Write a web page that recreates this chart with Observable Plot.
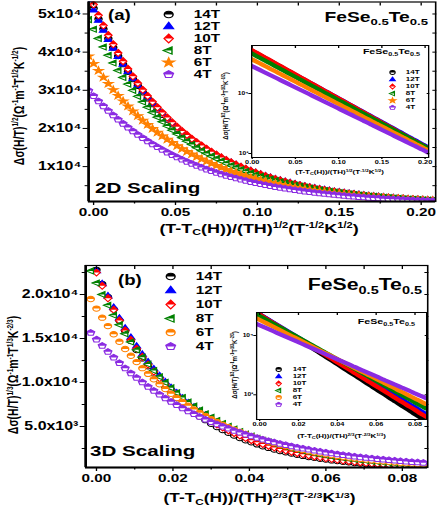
<!DOCTYPE html>
<html><head><meta charset="utf-8">
<script src="https://cdn.jsdelivr.net/npm/d3@7"></script>
<script src="https://cdn.jsdelivr.net/npm/@observablehq/plot@0.6"></script>
<style>
html,body{margin:0;padding:0;background:#fff;overflow:hidden;width:441px;height:508px;}
#root{position:relative;width:332px;height:508px;transform:scaleX(1.32831);transform-origin:0 0;font-family:"Liberation Sans",Arial,sans-serif;font-weight:bold;color:#000;}
.abs{position:absolute;}
.abs svg{display:block;}
.sub{font-size:0.68em;position:relative;top:0.3em;}
.sup{font-size:0.62em;position:relative;top:-0.55em;}
</style></head><body><div id="root"></div>
<script>
// ---------------- data ----------------
const fields = ["14T","12T","10T","8T","6T","4T"];
const colors = ["#000000","#0000ff","#ff0000","#008000","#ff8000","#8a2be2"];

// panel (a): 2D scaling, x = (T-Tc(H))/(TH)^1/2
const xA = [-0.003,0,0.003,0.006,0.009,0.012,0.015,0.018,0.021,0.024,0.027,0.030,0.033,0.036,0.039,0.042,0.045,0.048,0.051,0.054,0.057,0.060,0.063,0.066,0.069,0.072,0.075,0.078,0.081,0.084,0.087,0.090,0.093,0.096,0.099,0.102,0.105,0.108,0.111,0.114,0.117,0.120,0.123,0.126,0.129,0.132,0.135,0.138,0.141,0.144,0.147,0.150,0.153,0.156,0.159,0.162,0.165,0.168,0.171,0.174,0.177,0.180,0.183,0.186,0.189,0.192,0.195,0.198,0.201,0.204,0.207];
const a14 = [54450,51500,48700,46060,43560,41200,38960,36850,34850,32960,31170,29480,27880,26370,24940,23590,22310,21100,19950,18870,17850,16880,15960,15100,14280,13500,12770,12080,11420,10800,10220,9660,9140,8640,8170,7730,7310,6910,6540,6180,5850,5530,5230,4950,4680,4430,4190,3960,3740,3540,3350,3170,3000,2830,2680,2530,2400,2270,2140,2030,1920,1810,1720,1620,1530,1450,1370,1300,1230,1160,1100];
const a12 = [53860,51000,48300,45730,43310,41010,38840,36780,34830,32980,31230,29580,28010,26520,25120,23790,22530,21330,20200,19130,18120,17160,16250,15380,14570,13800,13060,12370,11720,11100,10510,9950,9420,8920,8450,8000,7580,7180,6800,6430,6090,5770,5460,5170,4900,4640,4390,4160,3940,3730,3530,3350,3170,3000,2840,2690,2550,2410,2290,2160,2050,1940,1840,1740,1650,1560,1480,1400,1330,1260,1190];
const a10 = [55500,52500,49670,46990,44450,42050,39790,37640,35610,33690,31870,30150,28520,26980,25530,24150,22850,21610,20450,19340,18300,17310,16380,15500,14660,13870,13120,12410,11740,11110,10510,9940,9410,8900,8420,7960,7530,7130,6740,6380,6040,5710,5400,5110,4830,4570,4330,4090,3870,3660,3470,3280,3100,2940,2780,2630,2490,2350,2220,2100,1990,1880,1780,1690,1590,1510,1430,1350,1280,1210,1140];
const a8 = [48530,46000,43600,41330,39180,37140,35210,33370,31630,29990,28420,26940,25540,24210,22950,21750,20620,19550,18530,17560,16650,15780,14960,14180,13440,12740,12080,11450,10850,10290,9750,9240,8760,8310,7870,7460,7080,6710,6360,6030,5710,5410,5130,4870,4610,4370,4140,3930,3720,3530,3350,3170,3010,2850,2700,2560,2430,2300,2180,2070,1960,1860,1760,1670,1580,1500,1420,1350,1280,1210,1150];
const a6 = [38950,37000,35150,33380,31710,30120,28610,27180,25810,24520,23290,22120,21010,19960,18960,18010,17110,16250,15440,14660,13930,13230,12570,11940,11340,10770,10230,9720,9230,8770,8330,7910,7510,7140,6780,6440,6120,5810,5520,5240,4980,4730,4490,4270,4050,3850,3660,3470,3300,3130,2980,2830,2690,2550,2420,2300,2190,2080,1970,1870,1780,1690,1610,1530,1450,1380,1310,1240,1180,1120,1060];
const a4 = [29930,28500,27140,25850,24620,23440,22330,21260,20250,19290,18370,17490,16660,15860,15110,14390,13700,13050,12430,11840,11270,10740,10220,9740,9270,8830,8410,8010,7630,7260,6920,6590,6270,5980,5690,5420,5160,4920,4680,4460,4250,4040,3850,3670,3490,3330,3170,3020,2870,2740,2610,2480,2360,2250,2140,2040,1940,1850,1760,1680,1600,1520,1450,1380,1320,1250,1190,1140,1080,1030,980];

// panel (b): 3D scaling, x = (T-Tc(H))/(TH)^2/3
const xB = [-0.0015,0,0.0015,0.003,0.0045,0.006,0.0075,0.009,0.0105,0.012,0.0135,0.015,0.0165,0.018,0.0195,0.021,0.0225,0.024,0.0255,0.027,0.0285,0.03,0.0315,0.033,0.0345,0.036,0.0375,0.039,0.0405,0.042,0.0435,0.045,0.0465,0.048,0.0495,0.051,0.0525,0.054,0.0555,0.057,0.0585,0.06,0.0615,0.063,0.0645,0.066,0.0675,0.069,0.0705,0.072,0.0735,0.075,0.0765,0.078,0.0795,0.081,0.0825,0.084,0.0855];
const b14 = [24520,22800,21200,19710,18330,17040,15850,14730,13700,12740,11840,11010,10240,9520,8850,8230,7650,7120,6620,6150,5720,5320,4950,4600,4280,3980,3700,3440,3200,2970,2760,2570,2390,2220,2070,1920,1790,1660,1540,1440,1330,1240,1150,1070,1000,930,860,800,750,690,640,600,560,520,480,450,420,390,360];
const b12 = [24290,22700,21220,19830,18530,17320,16190,15130,14140,13210,12350,11540,10790,10080,9420,8810,8230,7690,7190,6720,6280,5870,5480,5130,4790,4480,4180,3910,3650,3420,3190,2980,2790,2610,2440,2280,2130,1990,1860,1740,1620,1520,1420,1330,1240,1160,1080,1010,950,880,830,770,720,670,630,590,550,510,480];
const b10 = [24120,22500,20990,19580,18270,17040,15900,14830,13840,12910,12050,11240,10480,9780,9120,8510,7940,7410,6910,6450,6020,5610,5240,4890,4560,4250,3970,3700,3450,3220,3000,2800,2620,2440,2280,2120,1980,1850,1720,1610,1500,1400,1310,1220,1140,1060,990,920,860,800,750,700,650,610,570,530,490,460,430];
const b8 = [22680,21300,20000,18780,17640,16560,15550,14600,13710,12880,12090,11350,10660,10010,9400,8830,8290,7780,7310,6860,6440,6050,5680,5340,5010,4700,4420,4150,3900,3660,3440,3230,3030,2840,2670,2510,2360,2210,2080,1950,1830,1720,1610,1520,1420,1340,1260,1180,1110,1040,980,920,860,810,760,710,670,630,590];
const b6 = [19490,18400,17370,16410,15490,14630,13810,13040,12320,11630,10980,10370,9790,9250,8730,8240,7790,7350,6940,6550,6190,5840,5520,5210,4920,4650,4390,4140,3910,3690,3490,3290,3110,2940,2770,2620,2470,2340,2200,2080,1970,1860,1750,1660,1560,1480,1390,1320,1240,1170,1110,1050,990,930,880,830,790,740,700];
const b4 = [15660,14900,14180,13490,12840,12220,11630,11060,10530,10020,9530,9070,8630,8210,7820,7440,7080,6730,6410,6100,5800,5520,5260,5000,4760,4530,4310,4100,3900,3710,3530,3360,3200,3040,2900,2760,2620,2500,2380,2260,2150,2050,1950,1850,1760,1680,1600,1520,1450,1380,1310,1250,1190,1130,1070,1020,970,930,880];

// ticks
const xTicksA = [0,0.05,0.1,0.15,0.2];
const xLabelsA = ["0.00","0.05","0.10","0.15","0.20"];
const xMinorA = [0.025,0.075,0.125,0.175];
const yTicksA = [10000,20000,30000,40000,50000];
const yLabelsA = ["1x10⁴","2x10⁴","3x10⁴","4x10⁴","5x10⁴"];
const yMinorA = [5000,15000,25000,35000,45000];
const xTicksB = [0,0.02,0.04,0.06,0.08];
const xLabelsB = ["0.00","0.02","0.04","0.06","0.08"];
const xMinorB = [0.01,0.03,0.05,0.07];
const yTicksB = [5000,10000,15000,20000];
const yLabelsB = ["5.0x10³","1.0x10⁴","1.5x10⁴","2.0x10⁴"];
const yMinorB = [2500,7500,12500,17500,22500];
const logTicks = [1000,10000];
const logLabels = ["10³","10⁴"];

// ---------------- symbols ----------------
const P = Math.PI;
const rr = s => Math.sqrt(s / P);
function polyPath(c, pts){ c.moveTo(pts[0][0], pts[0][1]); for (let i = 1; i < pts.length; i++) c.lineTo(pts[i][0], pts[i][1]); c.closePath(); }
const mk = fn => ({draw(c, s){ polyPath(c, fn(rr(s))); }});
const SYM = {
  circle: {draw(c, s){ const r = rr(s); c.moveTo(r, 0); c.arc(0, 0, r, 0, 2 * P); }},
  circleHalf: {draw(c, s){ const r = rr(s); c.moveTo(-r, 0); c.arc(0, 0, r, P, 2 * P); c.closePath(); }},
  tri: mk(r => [[0, -1.25 * r], [1.1 * r, 0.7 * r], [-1.1 * r, 0.7 * r]]),
  dia: mk(r => [[0, -1.3 * r], [1.05 * r, 0], [0, 1.3 * r], [-1.05 * r, 0]]),
  diaHalf: mk(r => [[-1.05 * r, 0], [0, -1.3 * r], [1.05 * r, 0]]),
  triL: mk(r => [[-1.25 * r, 0], [0.75 * r, -1.1 * r], [0.75 * r, 1.1 * r]]),
  triLHalf: mk(r => [[-1.25 * r, 0], [0.75 * r, -1.1 * r], [0.75 * r, 0]]),
  star: mk(r => d3.range(10).map(i => { const a = -P / 2 + i * P / 5, q = i % 2 ? 0.55 * r : 1.4 * r; return [q * Math.cos(a), q * Math.sin(a)]; })),
  pent: mk(r => d3.range(5).map(i => { const a = -P / 2 + i * 2 * P / 5; return [1.15 * r * Math.cos(a), 1.15 * r * Math.sin(a)]; })),
  pentHalf: mk(r => { const k = 1.15 * r; return [[-0.951 * k, -0.309 * k], [0, -k], [0.951 * k, -0.309 * k], [0.8507 * k, 0], [-0.8507 * k, 0]]; })
};
const stylesA = [
  {full: SYM.circle, half: SYM.circleHalf},
  {full: SYM.tri, solid: true},
  {full: SYM.dia, half: SYM.diaHalf},
  {full: SYM.triL, half: SYM.triLHalf},
  {full: SYM.star, solid: true},
  {full: SYM.pent, half: SYM.pentHalf}
];
const stylesB = stylesA.map((s, i) => i === 4 ? {full: SYM.circle, half: SYM.circleHalf} : s);

const FONT = "'Liberation Sans', Arial, sans-serif";
const root = document.getElementById("root");
function place(node, left, top){ const d = document.createElement("div"); d.className = "abs"; d.style.left = left + "px"; d.style.top = top + "px"; d.appendChild(node); root.appendChild(d); return d; }
function addText(h, x, base, fs, anchor){ const d = document.createElement("div"); d.className = "abs"; d.style.left = x + "px"; d.style.top = (base - 0.85 * fs) + "px"; d.style.fontSize = fs + "px"; d.style.lineHeight = fs + "px"; d.style.whiteSpace = "nowrap"; if (anchor === "middle") d.style.transform = "translateX(-50%)"; if (anchor === "end") d.style.transform = "translateX(-100%)"; d.innerHTML = h; root.appendChild(d); }
function addVText(h, cx, cy, fs){ const d = document.createElement("div"); d.className = "abs"; d.style.left = cx + "px"; d.style.top = cy + "px"; d.style.fontSize = fs + "px"; d.style.lineHeight = fs + "px"; d.style.whiteSpace = "nowrap"; d.style.transform = "translate(-50%,-50%) rotate(-90deg)"; d.innerHTML = h; root.appendChild(d); }
const svgStyle = {fontFamily: FONT, fontWeight: "bold", color: "black", background: "transparent", overflow: "visible"};

function mainPlot(c){
  const marks = [];
  c.ys.forEach((ys, j) => {
    const data = c.xs.map((x, i) => ({x, y: ys[i]}));
    const st = c.styles[j], col = colors[j];
    marks.push(Plot.dot(data, {x: "x", y: "y", r: 2.7, symbol: st.full, fill: st.solid ? col : "white", stroke: col, strokeWidth: 1, clip: true}));
    if (st.half) marks.push(Plot.dot(data, {x: "x", y: "y", r: 2.7, symbol: st.half, fill: col, clip: true}));
  });
  marks.push(
    Plot.frame({strokeWidth: 1.2}),
    Plot.ruleX([c.xDom[0]], {strokeWidth: 2}),
    Plot.ruleY([c.yDom[0]], {strokeWidth: 2}),
    Plot.axisX({ticks: c.xTicks, tickFormat: d => c.xLabels[c.xTicks.indexOf(d)], tickSize: 4, tickPadding: 2, fontSize: 11.5, fontWeight: "bold", label: null}),
    Plot.axisX({ticks: c.xMinor, tickFormat: () => "", tickSize: 2.5, label: null}),
    Plot.axisX({anchor: "top", ticks: c.xTicks.concat(c.xMinor), tickFormat: () => "", tickSize: -3, label: null}),
    Plot.axisY({ticks: c.yTicks, tickFormat: d => c.yLabels[c.yTicks.indexOf(d)], tickSize: 4, tickPadding: 1.5, fontSize: 12, fontWeight: "bold", label: null}),
    Plot.axisY({ticks: c.yMinor, tickFormat: () => "", tickSize: 2.5, label: null}),
    Plot.axisY({anchor: "right", ticks: c.yTicks.concat(c.yMinor), tickFormat: () => "", tickSize: -3, label: null})
  );
  return Plot.plot({width: c.w, height: c.h, marginLeft: c.ml, marginRight: c.mr, marginTop: c.mt, marginBottom: c.mb,
    x: {domain: c.xDom}, y: {domain: c.yDom}, marks, style: svgStyle});
}

function insetPlot(c){
  const marks = [Plot.frame({fill: "white", stroke: null})];
  c.ys.forEach((ys, j) => {
    const data = c.xs.map((x, i) => ({x, y: ys[i]}));
    marks.push(Plot.line(data, {x: "x", y: "y", stroke: colors[j], strokeWidth: 4, clip: true}));
  });
  marks.push(
    Plot.frame({strokeWidth: 1}),
    Plot.axisX({ticks: c.xTicks, tickFormat: d => c.xLabels[c.xTicks.indexOf(d)], tickSize: 2, tickPadding: 1, fontSize: 5.5, fontWeight: "bold", label: null}),
    Plot.axisX({anchor: "top", ticks: c.xTicks, tickFormat: () => "", tickSize: -2, label: null}),
    Plot.axisY({ticks: logTicks, tickFormat: d => logLabels[logTicks.indexOf(d)], tickSize: 2, tickPadding: 0.5, fontSize: 5, fontWeight: "bold", label: null}),
    Plot.axisY({anchor: "right", ticks: logTicks, tickFormat: () => "", tickSize: -2, label: null})
  );
  return Plot.plot({width: c.w, height: c.h, marginLeft: c.ml, marginRight: c.mr, marginTop: c.mt, marginBottom: c.mb,
    x: {domain: c.xDom}, y: {type: "log", domain: c.yDom}, marks, style: svgStyle});
}

function legendPlot(c){
  const marks = [];
  fields.forEach((f, j) => {
    const st = c.styles[j], col = colors[j];
    marks.push(Plot.dot([f], {y: d => d, frameAnchor: "left", dx: c.dx, r: c.r, symbol: st.full, fill: st.solid ? col : "white", stroke: col, strokeWidth: c.sw}));
    if (st.half) marks.push(Plot.dot([f], {y: d => d, frameAnchor: "left", dx: c.dx, r: c.r, symbol: st.half, fill: col}));
  });
  marks.push(Plot.text(fields, {y: d => d, text: d => d, frameAnchor: "left", dx: c.tx, textAnchor: "start", fontSize: c.fs, fontWeight: "bold", fill: "black"}));
  return Plot.plot({width: c.w, height: c.h, marginLeft: 0, marginRight: 0, marginTop: c.m, marginBottom: c.m,
    y: {type: "point", domain: fields, axis: null, padding: 0}, marks, style: svgStyle});
}

// ---------- panel (a) ----------
place(mainPlot({xs: xA, ys: [a14, a12, a10, a8, a6, a4], styles: stylesA, w: 332, h: 250, ml: 66.2, mr: 4.5, mt: 1.5, mb: 49,
  xDom: [-0.00305, 0.20885], yDom: [850, 53140], xTicks: xTicksA, xLabels: xLabelsA, xMinor: xMinorA, yTicks: yTicksA, yLabels: yLabelsA, yMinor: yMinorA}), 0, 0);
place(insetPlot({xs: xA, ys: [a14, a12, a10, a8, a6, a4], w: 172, h: 142, ml: 28.96, mr: 9.8, mt: 5, mb: 25,
  xDom: [-0.0006, 0.2041], yDom: [858, 63100], xTicks: xTicksA, xLabels: xLabelsA}), 160, 40);
place(legendPlot({styles: stylesA, w: 50, h: 74, m: 6, dx: 8.5, tx: 27.3, r: 3.3, sw: 1.1, fs: 11.5}), 118, 7);
place(legendPlot({styles: stylesA, w: 36, h: 44, m: 4, dx: 5, tx: 15, r: 2, sw: 0.8, fs: 6}), 290, 67);

// ---------- panel (b) ----------
place(mainPlot({xs: xB, ys: [b14, b12, b10, b8, b6, b4], styles: stylesB, w: 332, h: 258, ml: 64, mr: 10.5, mt: 15, mb: 41,
  xDom: [-0.002825, 0.08663], yDom: [341, 23295], xTicks: xTicksB, xLabels: xLabelsB, xMinor: xMinorB, yTicks: yTicksB, yLabels: yLabelsB, yMinor: yMinorB}), 0, 250);
place(insetPlot({xs: xB, ys: [b14, b12, b10, b8, b6, b4], w: 167, h: 138, ml: 27.7, mr: 11.3, mt: 7, mb: 24,
  xDom: [-0.00155, 0.0860], yDom: [383, 24430], xTicks: xTicksB, xLabels: xLabelsB}), 165, 305);
place(legendPlot({styles: stylesB, w: 50, h: 84.5, m: 6, dx: 8, tx: 26.8, r: 3.3, sw: 1.1, fs: 11.5}), 120, 269);
place(legendPlot({styles: stylesB, w: 36, h: 45, m: 4, dx: 5.3, tx: 15.8, r: 2, sw: 0.8, fs: 6}), 204, 364);

// ---------- texts ----------
const FESE = 'FeSe<span class="sub">0.5</span>Te<span class="sub">0.5</span>';
const XLAB_A = '(T-T<span class="sub">C</span>(H))/(TH)<span class="sup">1/2</span>(T<span class="sup">-1/2</span>K<span class="sup">1/2</span>)';
const XLAB_B = '(T-T<span class="sub">C</span>(H))/(TH)<span class="sup">2/3</span>(T<span class="sup">-2/3</span>K<span class="sup">1/3</span>)';
const YLAB_A = 'Δσ(H/T)<span class="sup">1/2</span>(Ω<span class="sup">-1</span>m<span class="sup">-1</span>T<span class="sup">1/2</span>K<span class="sup">-1/2</span>)';
const YLAB_B = 'Δσ(H/T)<span class="sup">1/3</span>(Ω<span class="sup">-1</span>m<span class="sup">-1</span>T<span class="sup">1/3</span>K<span class="sup">-2/3</span>)';

addText("(a)", 81.3, 20, 14, "start");
addText(FESE, 322.2, 22, 14.5, "end");
addText("2D Scaling", 71.5, 193, 15.5, "start");
addText(XLAB_A, 195, 233, 13.5, "middle");
addVText(YLAB_A, 15, 106, 10.5);
addText(FESE, 316.2, 55, 8, "end");
addText(XLAB_A, 255.7, 174, 6, "middle");
addVText(YLAB_A, 170.1, 106, 6);

addText("(b)", 88.8, 285, 14, "start");
addText(FESE, 317.7, 291, 16, "end");
addText("3D Scaling", 67.8, 456, 15.5, "start");
addText(XLAB_B, 195.4, 502, 13, "middle");
addVText(YLAB_B, 11.3, 375, 10.5);
addText(FESE, 312.4, 325, 8, "end");
addText(XLAB_B, 257.1, 438, 6, "middle");
addVText(YLAB_B, 176.9, 365, 6);
</script></body></html>
